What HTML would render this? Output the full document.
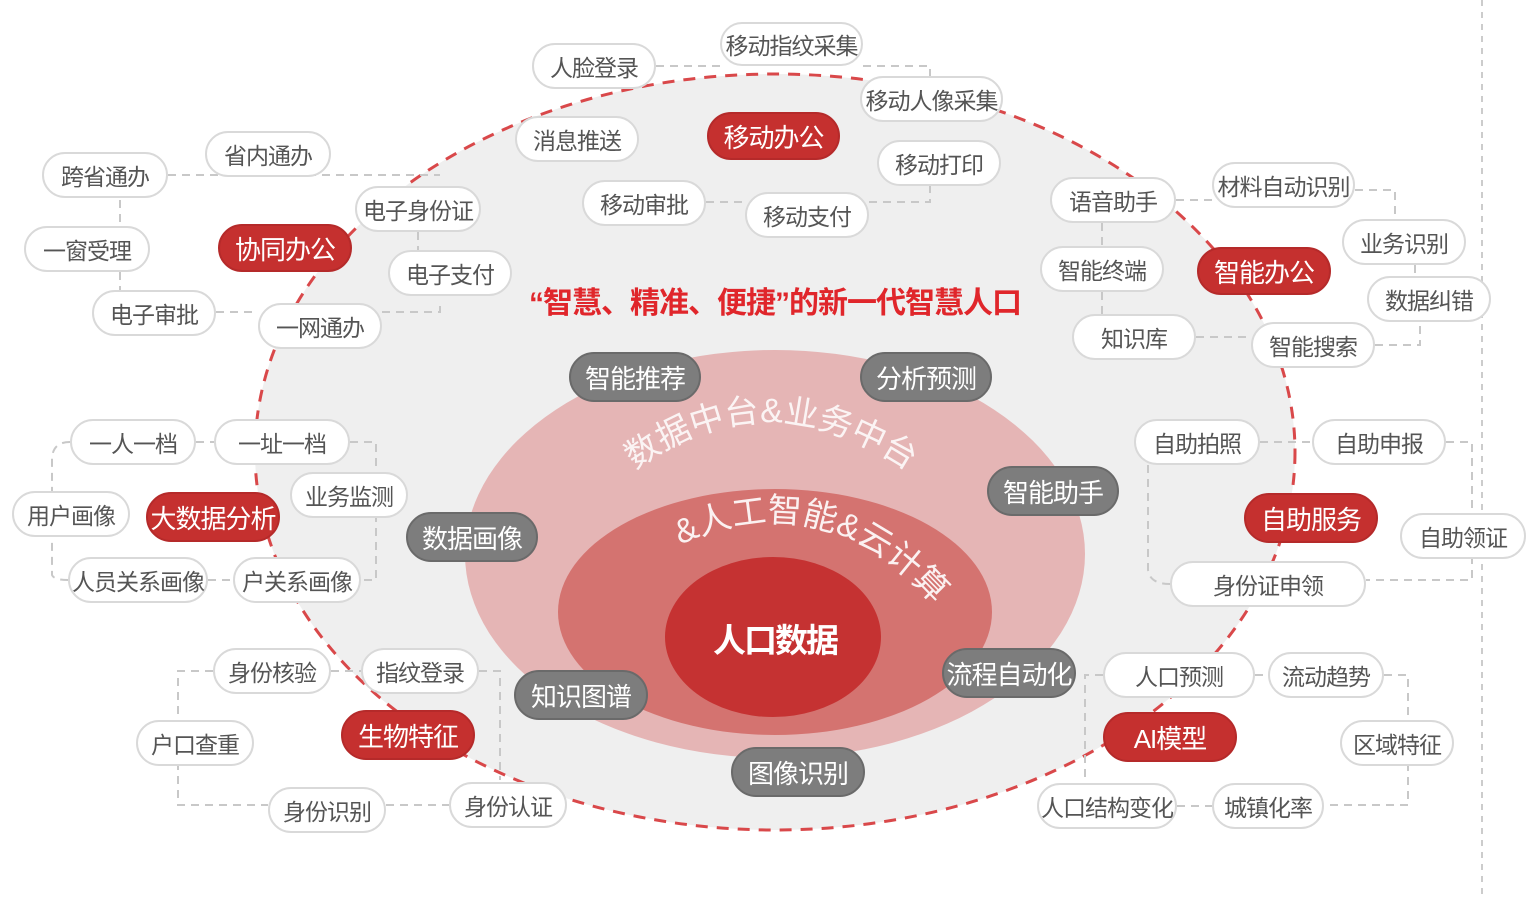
<!DOCTYPE html>
<html><head><meta charset="utf-8"><style>
body{margin:0;width:1540px;height:897px;background:#fff;position:relative;overflow:hidden;font-family:"Liberation Sans","Noto Sans CJK SC",sans-serif}
.p{position:absolute;box-sizing:border-box;border-radius:26px;display:flex;align-items:center;justify-content:center;font-size:23px;white-space:nowrap;letter-spacing:-1px}
.w{background:#fff;border:2px solid #d9d9d9;color:#555}
.r{background:#c5302f;color:#fff;border:2px solid #b52a2a}
.g{background:#7d7d7d;color:#fff;border:2px solid #6a6a6a}
svg{position:absolute;left:0;top:0}
</style></head><body>
<svg width="1540" height="897">
<line x1="1482" y1="0" x2="1482" y2="897" stroke="#ccc" stroke-width="2" stroke-dasharray="6,6"/>
<ellipse cx="775" cy="452" rx="520" ry="378" fill="#efefef" stroke="#d9484a" stroke-width="3" stroke-dasharray="12,9"/>
<ellipse cx="775" cy="554" rx="310" ry="204" fill="#e5b5b5"/>
<ellipse cx="775" cy="612" rx="217" ry="123" fill="#d47370"/>
<ellipse cx="773" cy="637" rx="108" ry="80" fill="#c53232"/>
<g stroke="#c8c8c8" stroke-width="2" stroke-dasharray="8,6" fill="none">
<path d="M168 175 H 440"/><path d="M120 200 V 226"/><path d="M120 272 V 290"/>
<path d="M216 312 H 258"/><path d="M382 312 H 440 V 300"/><path d="M418 232 V 250"/>
<path d="M656 66 H 720"/><path d="M863 66 H 930 V 76"/><path d="M706 202 H 745"/><path d="M869 202 H 930 V 186"/>
<path d="M1176 200 H 1212"/><path d="M1355 190 H 1395 V 219"/><path d="M1102 223 V 246"/><path d="M1102 292 V 314"/>
<path d="M1196 337 H 1251"/><path d="M1375 345 H 1420 V 322"/><path d="M1415 265 V 276"/>
<path d="M1260 442 H 1312"/><path d="M1446 442 H 1472 V 580 H 1366"/><path d="M1148 465 V 570 Q1150 584 1170 584"/>
<path d="M196 442 H 214"/><path d="M70 442 Q52 442 52 460 V 575 Q54 580 68 580"/><path d="M350 442 H 376 V 580 H 361"/><path d="M208 580 H 233"/>
<path d="M331 671 H 361"/><path d="M213 671 H 178 V 805 H 268"/><path d="M386 805 H 449"/><path d="M479 671 H 500 V 780"/>
<path d="M1103 675 H 1085 V 805"/><path d="M1255 675 H 1268"/><path d="M1384 675 H 1408 V 805 H 1324"/><path d="M1177 806 H 1212"/>
</g>
<defs>
<path id="a1" d="M635 470 Q775 365 935 490"/>
<path id="a2" d="M680 545 Q820 480 930 600"/>
</defs>
<text font-size="34" fill="#fff" fill-opacity="0.85" font-family="Liberation Sans,Noto Sans CJK SC,sans-serif"><textPath href="#a1">数据中台&amp;业务中台</textPath></text>
<text font-size="34" fill="#fff" fill-opacity="0.9" font-family="Liberation Sans,Noto Sans CJK SC,sans-serif"><textPath href="#a2">&amp;人工智能&amp;云计算</textPath></text>
</svg>
<div style="position:absolute;left:520px;top:278px;width:510px;text-align:center;color:#e0262b;font-size:30px;font-weight:bold;letter-spacing:-1px">“智慧、精准、便捷”的新一代智慧人口</div>
<div style="position:absolute;left:700px;top:614px;width:150px;text-align:center;color:#fff;font-size:33px;font-weight:bold;letter-spacing:-2px">人口数据</div>

<div class="p w" style="left:532px;top:43px;width:124px;height:46px">人脸登录</div>
<div class="p w" style="left:720px;top:22px;width:143px;height:44px">移动指纹采集</div>
<div class="p w" style="left:860px;top:76px;width:143px;height:46px">移动人像采集</div>
<div class="p w" style="left:515px;top:116px;width:124px;height:46px">消息推送</div>
<div class="p r" style="left:707px;top:112px;width:133px;height:48px;font-size:26px">移动办公</div>
<div class="p w" style="left:877px;top:140px;width:124px;height:46px">移动打印</div>
<div class="p w" style="left:582px;top:180px;width:124px;height:46px">移动审批</div>
<div class="p w" style="left:745px;top:192px;width:124px;height:46px">移动支付</div>
<div class="p w" style="left:205px;top:131px;width:126px;height:46px">省内通办</div>
<div class="p w" style="left:42px;top:152px;width:126px;height:46px">跨省通办</div>
<div class="p w" style="left:355px;top:186px;width:126px;height:46px">电子身份证</div>
<div class="p r" style="left:218px;top:224px;width:134px;height:48px;font-size:26px">协同办公</div>
<div class="p w" style="left:24px;top:226px;width:126px;height:46px">一窗受理</div>
<div class="p w" style="left:388px;top:250px;width:124px;height:46px">电子支付</div>
<div class="p w" style="left:92px;top:290px;width:124px;height:46px">电子审批</div>
<div class="p w" style="left:258px;top:303px;width:124px;height:46px">一网通办</div>
<div class="p w" style="left:1050px;top:177px;width:126px;height:46px">语音助手</div>
<div class="p w" style="left:1212px;top:162px;width:143px;height:46px">材料自动识别</div>
<div class="p w" style="left:1342px;top:219px;width:124px;height:46px">业务识别</div>
<div class="p w" style="left:1040px;top:246px;width:124px;height:46px">智能终端</div>
<div class="p r" style="left:1197px;top:247px;width:134px;height:48px;font-size:26px">智能办公</div>
<div class="p w" style="left:1367px;top:276px;width:124px;height:46px">数据纠错</div>
<div class="p w" style="left:1072px;top:314px;width:124px;height:46px">知识库</div>
<div class="p w" style="left:1251px;top:322px;width:124px;height:46px">智能搜索</div>
<div class="p g" style="left:569px;top:352px;width:132px;height:50px;font-size:26px">智能推荐</div>
<div class="p g" style="left:860px;top:352px;width:132px;height:50px;font-size:26px">分析预测</div>
<div class="p w" style="left:70px;top:419px;width:126px;height:46px">一人一档</div>
<div class="p w" style="left:214px;top:419px;width:136px;height:46px">一址一档</div>
<div class="p w" style="left:290px;top:472px;width:118px;height:46px">业务监测</div>
<div class="p w" style="left:12px;top:491px;width:118px;height:46px">用户画像</div>
<div class="p r" style="left:146px;top:492px;width:134px;height:50px;font-size:26px">大数据分析</div>
<div class="p g" style="left:406px;top:512px;width:132px;height:50px;font-size:26px">数据画像</div>
<div class="p w" style="left:68px;top:557px;width:140px;height:46px">人员关系画像</div>
<div class="p w" style="left:233px;top:557px;width:128px;height:46px">户关系画像</div>
<div class="p w" style="left:1134px;top:419px;width:126px;height:46px">自助拍照</div>
<div class="p w" style="left:1312px;top:419px;width:134px;height:46px">自助申报</div>
<div class="p g" style="left:987px;top:466px;width:132px;height:50px;font-size:26px">智能助手</div>
<div class="p r" style="left:1244px;top:493px;width:134px;height:50px;font-size:26px">自助服务</div>
<div class="p w" style="left:1400px;top:513px;width:126px;height:46px">自助领证</div>
<div class="p w" style="left:1170px;top:561px;width:196px;height:46px">身份证申领</div>
<div class="p w" style="left:213px;top:648px;width:118px;height:46px">身份核验</div>
<div class="p w" style="left:361px;top:648px;width:118px;height:46px">指纹登录</div>
<div class="p g" style="left:514px;top:670px;width:134px;height:50px;font-size:26px">知识图谱</div>
<div class="p g" style="left:942px;top:648px;width:134px;height:50px;font-size:26px">流程自动化</div>
<div class="p w" style="left:1103px;top:652px;width:152px;height:46px">人口预测</div>
<div class="p w" style="left:1268px;top:652px;width:116px;height:46px">流动趋势</div>
<div class="p w" style="left:136px;top:720px;width:118px;height:46px">户口查重</div>
<div class="p r" style="left:341px;top:710px;width:134px;height:50px;font-size:26px">生物特征</div>
<div class="p r" style="left:1103px;top:712px;width:134px;height:50px;font-size:26px">AI模型</div>
<div class="p w" style="left:1340px;top:720px;width:114px;height:46px">区域特征</div>
<div class="p g" style="left:731px;top:747px;width:134px;height:50px;font-size:26px">图像识别</div>
<div class="p w" style="left:268px;top:787px;width:118px;height:46px">身份识别</div>
<div class="p w" style="left:449px;top:782px;width:118px;height:46px">身份认证</div>
<div class="p w" style="left:1037px;top:783px;width:140px;height:46px">人口结构变化</div>
<div class="p w" style="left:1212px;top:783px;width:112px;height:46px">城镇化率</div>
</body></html>
